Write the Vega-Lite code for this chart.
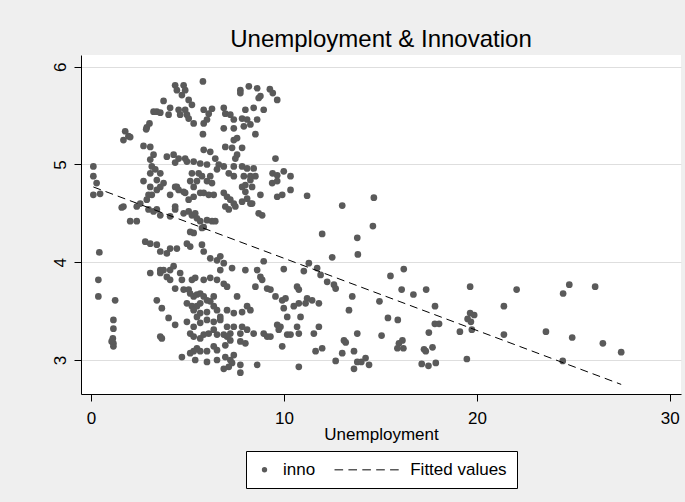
{
  "$schema": "https://vega.github.io/schema/vega-lite/v6.json",
  "width": 600,
  "height": 339,
  "autosize": {"type": "none"},
  "padding": {"left": 81, "top": 55, "right": 4, "bottom": 108},
  "background": "#efefef",
  "title": {
    "text": "Unemployment & Innovation",
    "font": "Liberation Sans",
    "fontSize": 24,
    "fontWeight": "normal",
    "color": "black",
    "anchor": "middle",
    "baseline": "alphabetic",
    "offset": 7,
    "dy": 23
  },
  "config": {
    "view": {"fill": "white", "stroke": null},
    "font": "Liberation Sans",
    "axis": {
      "domainColor": "black",
      "domainWidth": 1,
      "tickColor": "black",
      "tickWidth": 1,
      "tickSize": 7,
      "labelFont": "Liberation Sans",
      "labelFontSize": 17,
      "labelColor": "black",
      "titleFont": "Liberation Sans",
      "titleFontSize": 17,
      "titleFontWeight": "normal",
      "titleColor": "black"
    },
    "legend": {"layout": {"bottom": {"anchor": "middle"}}}
  },
  "datasets": {
    "pts": [
      {"u":4.36,"inno":5.81},{"u":4.80,"inno":5.81},{"u":4.45,"inno":5.76},{"u":4.88,"inno":5.76},{"u":5.80,"inno":5.85},
      {"u":4.71,"inno":5.71},{"u":5.06,"inno":5.66},{"u":3.76,"inno":5.65},{"u":5.23,"inno":5.61},{"u":4.10,"inno":5.58},
      {"u":4.54,"inno":5.56},{"u":4.88,"inno":5.56},{"u":4.62,"inno":5.51},{"u":4.97,"inno":5.51},{"u":3.41,"inno":5.54},
      {"u":3.59,"inno":5.53},{"u":3.24,"inno":5.54},{"u":4.02,"inno":5.51},{"u":5.06,"inno":5.47},{"u":5.32,"inno":5.42},
      {"u":5.84,"inno":5.56},{"u":6.27,"inno":5.57},{"u":6.10,"inno":5.52},{"u":6.01,"inno":5.46},{"u":5.84,"inno":5.42},
      {"u":5.80,"inno":5.31},{"u":2.89,"inno":5.38},{"u":3.03,"inno":5.42},{"u":2.86,"inno":5.36},{"u":1.77,"inno":5.34},
      {"u":1.94,"inno":5.29},{"u":1.68,"inno":5.25},{"u":2.03,"inno":5.28},{"u":7.74,"inno":5.76},{"u":8.18,"inno":5.80},
      {"u":8.61,"inno":5.78},{"u":9.27,"inno":5.77},{"u":9.42,"inno":5.73},{"u":8.78,"inno":5.70},{"u":8.69,"inno":5.68},
      {"u":9.65,"inno":5.66},{"u":7.74,"inno":5.73},{"u":8.00,"inno":5.56},{"u":8.43,"inno":5.58},{"u":8.95,"inno":5.56},
      {"u":6.88,"inno":5.58},{"u":6.96,"inno":5.52},{"u":7.22,"inno":5.51},{"u":7.40,"inno":5.46},{"u":7.83,"inno":5.47},
      {"u":8.09,"inno":5.46},{"u":8.61,"inno":5.46},{"u":7.92,"inno":5.39},{"u":8.26,"inno":5.41},{"u":6.88,"inno":5.37},
      {"u":7.40,"inno":5.37},{"u":8.52,"inno":5.31},{"u":6.96,"inno":5.18},{"u":7.40,"inno":5.25},{"u":7.57,"inno":5.27},
      {"u":7.31,"inno":5.17},{"u":7.83,"inno":5.17},{"u":7.57,"inno":5.10},{"u":7.48,"inno":5.06},{"u":2.72,"inno":5.19},
      {"u":3.07,"inno":5.18},{"u":5.84,"inno":5.15},{"u":6.18,"inno":5.13},{"u":3.93,"inno":5.08},{"u":4.28,"inno":5.10},
      {"u":4.36,"inno":5.02},{"u":4.54,"inno":5.06},{"u":4.88,"inno":5.06},{"u":3.24,"inno":5.10},{"u":3.07,"inno":5.05},
      {"u":4.97,"inno":5.03},{"u":5.32,"inno":5.03},{"u":5.66,"inno":5.01},{"u":6.01,"inno":5.00},{"u":6.44,"inno":5.06},
      {"u":6.62,"inno":5.00},{"u":6.88,"inno":4.98},{"u":6.53,"inno":4.95},{"u":7.40,"inno":4.98},{"u":7.83,"inno":4.98},
      {"u":8.09,"inno":4.96},{"u":8.43,"inno":4.96},{"u":7.14,"inno":4.91},{"u":7.40,"inno":4.88},{"u":7.92,"inno":4.88},
      {"u":8.26,"inno":4.88},{"u":8.52,"inno":4.88},{"u":9.56,"inno":5.06},{"u":9.41,"inno":4.91},{"u":9.65,"inno":4.89},
      {"u":9.99,"inno":4.93},{"u":10.34,"inno":4.88},{"u":0.12,"inno":4.98},{"u":0.12,"inno":4.88},{"u":0.29,"inno":4.81},
      {"u":0.47,"inno":4.70},{"u":0.12,"inno":4.69},{"u":3.15,"inno":4.98},{"u":3.33,"inno":4.95},{"u":3.07,"inno":4.91},
      {"u":3.59,"inno":4.91},{"u":3.41,"inno":4.84},{"u":3.76,"inno":4.81},{"u":3.59,"inno":4.77},{"u":5.23,"inno":4.91},
      {"u":5.58,"inno":4.91},{"u":5.75,"inno":4.88},{"u":5.49,"inno":4.83},{"u":6.01,"inno":4.83},{"u":6.18,"inno":4.88},
      {"u":6.27,"inno":4.81},{"u":5.14,"inno":4.83},{"u":5.32,"inno":4.77},{"u":2.72,"inno":4.83},{"u":3.07,"inno":4.77},
      {"u":3.41,"inno":4.74},{"u":2.98,"inno":4.69},{"u":2.89,"inno":4.64},{"u":3.15,"inno":4.69},{"u":4.10,"inno":4.69},
      {"u":4.45,"inno":4.77},{"u":4.88,"inno":4.71},{"u":5.06,"inno":4.64},{"u":5.32,"inno":4.67},{"u":5.66,"inno":4.71},
      {"u":5.84,"inno":4.71},{"u":6.10,"inno":4.69},{"u":6.36,"inno":4.69},{"u":6.88,"inno":4.71},{"u":7.05,"inno":4.67},
      {"u":7.22,"inno":4.64},{"u":7.40,"inno":4.60},{"u":7.83,"inno":4.62},{"u":8.26,"inno":4.60},{"u":8.78,"inno":4.69},
      {"u":9.65,"inno":4.67},{"u":9.91,"inno":4.69},{"u":10.34,"inno":4.74},{"u":11.20,"inno":4.68},{"u":6.96,"inno":4.57},
      {"u":7.14,"inno":4.54},{"u":7.48,"inno":4.57},{"u":8.09,"inno":4.65},{"u":8.35,"inno":4.60},{"u":8.69,"inno":4.50},
      {"u":8.87,"inno":4.48},{"u":9.39,"inno":4.81},{"u":9.65,"inno":4.83},{"u":7.83,"inno":4.77},{"u":8.00,"inno":4.79},
      {"u":8.26,"inno":4.84},{"u":8.35,"inno":4.77},{"u":8.00,"inno":4.72},{"u":2.55,"inno":4.60},{"u":2.37,"inno":4.57},
      {"u":1.68,"inno":4.57},{"u":1.59,"inno":4.56},{"u":2.03,"inno":4.42},{"u":2.37,"inno":4.42},{"u":2.98,"inno":4.54},
      {"u":3.24,"inno":4.52},{"u":3.41,"inno":4.54},{"u":3.59,"inno":4.48},{"u":4.10,"inno":4.47},{"u":4.36,"inno":4.54},
      {"u":4.80,"inno":4.50},{"u":5.06,"inno":4.52},{"u":5.23,"inno":4.48},{"u":5.40,"inno":4.50},{"u":5.49,"inno":4.45},
      {"u":5.66,"inno":4.42},{"u":6.01,"inno":4.43},{"u":5.84,"inno":4.36},{"u":6.27,"inno":4.42},{"u":6.44,"inno":4.42},
      {"u":5.32,"inno":4.30},{"u":5.14,"inno":4.31},{"u":4.97,"inno":4.19},{"u":5.14,"inno":4.16},{"u":5.75,"inno":4.35},
      {"u":4.36,"inno":4.57},{"u":2.81,"inno":4.21},{"u":3.07,"inno":4.19},{"u":3.41,"inno":4.18},{"u":3.59,"inno":4.11},
      {"u":4.36,"inno":4.77},{"u":4.54,"inno":4.74},{"u":4.80,"inno":4.72},{"u":13.02,"inno":4.58},{"u":11.98,"inno":4.29},
      {"u":12.50,"inno":4.05},{"u":13.80,"inno":4.25},{"u":13.83,"inno":4.08},{"u":11.29,"inno":3.99},{"u":11.72,"inno":3.94},
      {"u":11.03,"inno":3.91},{"u":11.90,"inno":3.87},{"u":12.24,"inno":3.80},{"u":12.59,"inno":3.77},{"u":12.68,"inno":3.73},
      {"u":13.54,"inno":3.65},{"u":13.37,"inno":3.51},{"u":13.80,"inno":3.27},{"u":13.11,"inno":3.20},{"u":13.20,"inno":3.18},
      {"u":13.02,"inno":3.07},{"u":13.63,"inno":3.09},{"u":13.80,"inno":2.98},{"u":13.63,"inno":2.91},{"u":12.68,"inno":2.99},
      {"u":5.75,"inno":4.18},{"u":5.84,"inno":4.11},{"u":6.18,"inno":4.04},{"u":6.53,"inno":4.02},{"u":6.70,"inno":4.06},
      {"u":6.88,"inno":3.99},{"u":6.70,"inno":3.92},{"u":7.31,"inno":3.94},{"u":8.00,"inno":3.92},{"u":8.95,"inno":4.01},
      {"u":9.99,"inno":3.93},{"u":8.61,"inno":3.92},{"u":8.78,"inno":3.85},{"u":8.87,"inno":3.82},{"u":8.52,"inno":3.75},
      {"u":9.13,"inno":3.73},{"u":9.30,"inno":3.72},{"u":9.56,"inno":3.65},{"u":9.91,"inno":3.61},{"u":10.68,"inno":3.75},
      {"u":10.77,"inno":3.72},{"u":11.20,"inno":3.63},{"u":11.12,"inno":3.58},{"u":10.77,"inno":3.58},{"u":10.51,"inno":3.55},
      {"u":11.81,"inno":3.58},{"u":11.46,"inno":3.61},{"u":10.08,"inno":3.63},{"u":9.99,"inno":3.53},{"u":10.17,"inno":3.44},
      {"u":10.86,"inno":3.44},{"u":10.68,"inno":3.34},{"u":10.77,"inno":3.27},{"u":10.34,"inno":3.26},{"u":10.17,"inno":3.26},
      {"u":9.73,"inno":3.31},{"u":9.82,"inno":3.34},{"u":9.65,"inno":3.36},{"u":9.30,"inno":3.24},{"u":9.13,"inno":3.24},
      {"u":8.95,"inno":3.27},{"u":8.43,"inno":3.27},{"u":8.09,"inno":3.31},{"u":7.83,"inno":3.34},{"u":7.74,"inno":3.27},
      {"u":7.40,"inno":3.34},{"u":7.22,"inno":3.27},{"u":7.05,"inno":3.34},{"u":6.70,"inno":3.41},{"u":6.36,"inno":3.39},
      {"u":6.01,"inno":3.41},{"u":5.66,"inno":3.38},{"u":5.32,"inno":3.34},{"u":4.97,"inno":3.39},{"u":4.36,"inno":3.36},
      {"u":4.02,"inno":3.43},{"u":3.67,"inno":3.53},{"u":3.41,"inno":3.61},{"u":3.59,"inno":3.24},{"u":5.14,"inno":3.27},
      {"u":5.32,"inno":3.24},{"u":5.66,"inno":3.22},{"u":5.84,"inno":3.26},{"u":6.10,"inno":3.27},{"u":6.36,"inno":3.31},
      {"u":6.53,"inno":3.26},{"u":6.88,"inno":3.26},{"u":7.05,"inno":3.24},{"u":7.22,"inno":3.20},{"u":7.74,"inno":3.19},
      {"u":8.00,"inno":3.17},{"u":6.96,"inno":3.15},{"u":6.53,"inno":3.10},{"u":6.36,"inno":3.14},{"u":6.01,"inno":3.09},
      {"u":5.66,"inno":3.09},{"u":5.49,"inno":3.12},{"u":5.32,"inno":3.09},{"u":5.14,"inno":3.07},{"u":4.71,"inno":3.03},
      {"u":5.40,"inno":3.00},{"u":6.01,"inno":2.98},{"u":6.53,"inno":3.00},{"u":6.96,"inno":3.03},{"u":7.22,"inno":3.00},
      {"u":7.40,"inno":3.05},{"u":7.31,"inno":2.97},{"u":7.14,"inno":2.93},{"u":6.88,"inno":2.91},{"u":7.74,"inno":2.95},
      {"u":7.74,"inno":2.87},{"u":8.61,"inno":2.95},{"u":10.77,"inno":2.93},{"u":11.64,"inno":3.09},{"u":11.98,"inno":3.12},
      {"u":11.55,"inno":3.27},{"u":11.81,"inno":3.34},{"u":9.91,"inno":3.14},{"u":3.07,"inno":3.89},{"u":3.59,"inno":3.92},
      {"u":3.76,"inno":3.92},{"u":4.10,"inno":3.92},{"u":4.28,"inno":3.96},{"u":3.93,"inno":3.85},{"u":4.10,"inno":3.82},
      {"u":4.36,"inno":3.73},{"u":4.80,"inno":3.72},{"u":5.06,"inno":3.72},{"u":5.14,"inno":3.68},{"u":5.32,"inno":3.65},
      {"u":5.49,"inno":3.67},{"u":5.66,"inno":3.68},{"u":5.84,"inno":3.65},{"u":6.01,"inno":3.61},{"u":6.36,"inno":3.65},
      {"u":5.23,"inno":3.82},{"u":5.40,"inno":3.84},{"u":5.84,"inno":3.82},{"u":6.18,"inno":3.84},{"u":6.53,"inno":3.82},
      {"u":6.88,"inno":3.78},{"u":7.05,"inno":3.75},{"u":4.97,"inno":3.58},{"u":5.23,"inno":3.55},{"u":5.49,"inno":3.55},
      {"u":5.66,"inno":3.58},{"u":6.18,"inno":3.60},{"u":6.36,"inno":3.55},{"u":6.53,"inno":3.51},{"u":6.70,"inno":3.44},
      {"u":7.05,"inno":3.51},{"u":7.40,"inno":3.48},{"u":7.83,"inno":3.49},{"u":8.09,"inno":3.55},{"u":8.26,"inno":3.51},
      {"u":7.57,"inno":3.65},{"u":6.01,"inno":3.49},{"u":5.66,"inno":3.48},{"u":5.49,"inno":3.44},{"u":5.32,"inno":3.51},
      {"u":4.10,"inno":4.14},{"u":4.45,"inno":4.14},{"u":3.93,"inno":4.09},{"u":3.59,"inno":3.89},{"u":4.62,"inno":3.89},
      {"u":4.71,"inno":3.82},{"u":0.38,"inno":3.82},{"u":0.38,"inno":3.65},{"u":1.25,"inno":3.61},{"u":1.16,"inno":3.41},
      {"u":1.16,"inno":3.32},{"u":1.13,"inno":3.22},{"u":1.16,"inno":3.17},{"u":1.16,"inno":3.14},{"u":1.07,"inno":3.19},
      {"u":3.67,"inno":3.22},{"u":0.43,"inno":4.10},
      {"u":14.66,"inno":4.66},{"u":14.61,"inno":4.37},{"u":15.52,"inno":3.86},{"u":16.21,"inno":3.93},{"u":16.10,"inno":3.72},
      {"u":16.71,"inno":3.67},{"u":17.37,"inno":3.72},{"u":14.95,"inno":3.60},{"u":17.83,"inno":3.55},{"u":19.65,"inno":3.75},
      {"u":22.06,"inno":3.72},{"u":24.47,"inno":3.68},{"u":24.79,"inno":3.77},{"u":26.13,"inno":3.75},{"u":21.40,"inno":3.55},
      {"u":15.39,"inno":3.43},{"u":15.90,"inno":3.41},{"u":17.82,"inno":3.37},{"u":18.04,"inno":3.37},{"u":19.65,"inno":3.48},
      {"u":19.86,"inno":3.46},{"u":19.52,"inno":3.42},{"u":19.69,"inno":3.39},{"u":19.74,"inno":3.31},{"u":19.12,"inno":3.29},
      {"u":17.51,"inno":3.28},{"u":15.06,"inno":3.25},{"u":16.14,"inno":3.20},{"u":15.96,"inno":3.17},{"u":15.88,"inno":3.12},
      {"u":16.19,"inno":3.12},{"u":17.26,"inno":3.11},{"u":17.35,"inno":3.09},{"u":17.70,"inno":3.13},{"u":21.40,"inno":3.26},
      {"u":23.58,"inno":3.29},{"u":24.94,"inno":3.23},{"u":26.53,"inno":3.17},{"u":27.48,"inno":3.08},{"u":24.45,"inno":2.99},
      {"u":19.48,"inno":3.01},{"u":17.14,"inno":2.96},{"u":17.49,"inno":2.94},{"u":17.87,"inno":2.97},{"u":14.01,"inno":2.98},
      {"u":14.23,"inno":3.02},{"u":14.41,"inno":2.95}
    ],
    "fit": [
      {"u": 0.12, "fitted": 4.77},
      {"u": 27.48, "fitted": 2.75}
    ]
  },
  "layer": [
    {
      "data": {"name": "pts"},
      "mark": {"type": "point", "filled": true, "color": "#5a5a5a", "size": 45, "opacity": 1},
      "encoding": {
        "x": {
          "field": "u", "type": "quantitative",
          "scale": {"domain": [-0.52, 30.58], "nice": false, "zero": false},
          "axis": {"values": [0, 10, 20, 30], "grid": false, "title": "Unemployment", "labelPadding": 9, "titlePadding": 0, "labelFlush": false}
        },
        "y": {
          "field": "inno", "type": "quantitative",
          "scale": {"domain": [2.652, 6.12], "nice": false, "zero": false},
          "axis": {"values": [3, 4, 5, 6], "format": "d", "grid": true, "gridColor": "#dedede", "gridWidth": 1, "title": null, "labelAngle": 270, "labelAlign": "center", "labelBaseline": "bottom", "labelPadding": 5, "labelFlush": false}
        },
        "shape": {
          "datum": "inno",
          "type": "nominal",
          "scale": {
            "domain": ["inno", "Fitted values"],
            "range": ["circle", "M-3.77,-0.25H-0.52V0.25H-3.77ZM1.48,-0.25H4.73V0.25H1.48ZM6.73,-0.25H9.98V0.25H6.73ZM11.98,-0.25H15.23V0.25H11.98ZM17.23,-0.25H20.48V0.25H17.23Z"]
          },
          "legend": {
            "title": null,
            "orient": "bottom",
            "direction": "horizontal",
            "offset": 9,
            "padding": 10,
            "strokeColor": "black",
            "fillColor": "white",
            "cornerRadius": 0,
            "symbolSize": 28,
            "symbolStrokeWidth": 0,
            "symbolFillColor": "#5a5a5a",
            "symbolOpacity": 1,
            "labelFont": "Liberation Sans",
            "labelFontSize": 17,
            "labelColor": "black",
            "labelOffset": 10,
            "labelLimit": 300,
            "columnPadding": 18,
            "labelExpr": "datum.label === 'Fitted values' ? '\u200b\u00a0\u00a0\u00a0\u00a0\u00a0\u00a0\u00a0\u00a0\u00a0\u00a0Fitted values' : datum.label",
            "encode": {
              "symbols": {
                "fill": {"value": {"expr": "datum.value === 'inno' ? '#5a5a5a' : 'black'"}},
                "strokeWidth": {"value": 0},
                "opacity": {"value": 1}
              }
            }
          }
        }
      }
    },
    {
      "data": {"name": "fit"},
      "mark": {"type": "line", "color": "black", "strokeWidth": 1, "strokeDash": [8, 5]},
      "encoding": {
        "x": {"field": "u", "type": "quantitative"},
        "y": {"field": "fitted", "type": "quantitative"}
      }
    }
  ]
}
